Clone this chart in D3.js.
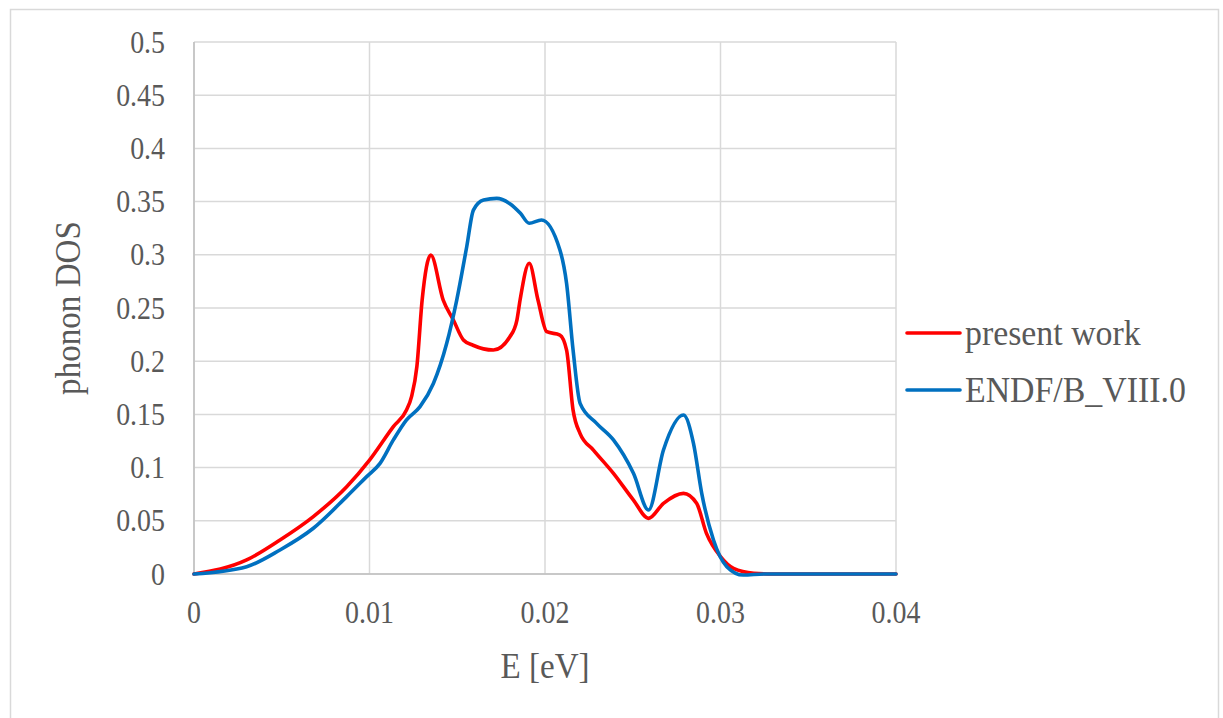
<!DOCTYPE html>
<html>
<head>
<meta charset="utf-8">
<script src="https://cdn.jsdelivr.net/npm/d3@7"></script>
<style>
  body { margin: 0; background: #fff; }
</style>
</head>
<body>
<script>
// energy grid [eV] and DOS values
var presentE = [0, 0.003, 0.0049, 0.0068, 0.0087, 0.010, 0.01136, 0.0121, 0.0124, 0.0127, 0.0130,
    0.01349, 0.0142, 0.01478, 0.01535, 0.0159, 0.01706, 0.0180, 0.0184, 0.01858, 0.0191, 0.0196,
    0.0201, 0.02085, 0.02123, 0.0216, 0.022, 0.02276, 0.0239, 0.02504, 0.0259, 0.02675, 0.02789,
    0.02864, 0.0292, 0.030, 0.03074, 0.0319, 0.033, 0.04];
var presentDos = [0, 0.0132, 0.032, 0.054, 0.082, 0.107, 0.1385, 0.154, 0.167, 0.195, 0.2575,
    0.2998, 0.2575, 0.2387, 0.22, 0.215, 0.2105, 0.223, 0.2387, 0.2575, 0.292, 0.2575,
    0.2277, 0.2246, 0.2105, 0.154, 0.132, 0.1165, 0.0946, 0.0695, 0.0523, 0.0664, 0.0758,
    0.0664, 0.0382, 0.0163, 0.0053, 0.0007, 0, 0];

var endfE = [0, 0.003, 0.0049, 0.0068, 0.0087, 0.00984, 0.0106, 0.01136, 0.0121, 0.01288, 0.01364,
    0.0144, 0.01497, 0.01554, 0.01592, 0.0165, 0.01725, 0.018, 0.0186, 0.0191, 0.0198, 0.02085,
    0.02123, 0.0216, 0.022, 0.02294, 0.0239, 0.02504, 0.0259, 0.02675, 0.02789, 0.02846, 0.02893,
    0.0296, 0.03036, 0.0313, 0.0325, 0.04];
var endfDos = [0, 0.0069, 0.0226, 0.043, 0.0727, 0.0915, 0.104, 0.126, 0.1447, 0.1573, 0.179,
    0.2168, 0.2575, 0.3076, 0.342, 0.3515, 0.353, 0.348, 0.339, 0.3296, 0.3327, 0.3045,
    0.273, 0.2105, 0.1604, 0.1416, 0.126, 0.0946, 0.0602, 0.1165, 0.1494, 0.1228, 0.0758,
    0.032, 0.0069, -0.001, 0, 0];

var xTicks = [0, 0.01, 0.02, 0.03, 0.04];
var yTicks = [0, 0.05, 0.1, 0.15, 0.2, 0.25, 0.3, 0.35, 0.4, 0.45, 0.5];
var seriesNames = ["present work", "ENDF/B_VIII.0"];
var seriesColors = ["#ff0000", "#0070c0"];

var W = 1223, H = 718;
var plot = {left: 194, top: 42, right: 896, bottom: 574};
var FONT = "'Liberation Serif', 'Times New Roman', serif";
var TXT = "#595959";

var svg = d3.select("body").append("svg")
    .attr("width", W)
    .attr("height", H);

// chart frame
svg.append("rect")
    .attr("x", 10.5).attr("y", 9.5)
    .attr("width", 1208).attr("height", 720)
    .attr("fill", "#fff")
    .attr("stroke", "#d9d9d9")
    .attr("stroke-width", 1.5);

var xScale = d3.scaleLinear().domain([0, 0.04]).range([plot.left, plot.right]);
var yScale = d3.scaleLinear().domain([0, 0.5]).range([plot.bottom, plot.top]);

// gridlines
svg.append("g").selectAll("line")
    .data(yTicks)
    .enter().append("line")
    .attr("x1", plot.left).attr("x2", plot.right)
    .attr("y1", d => yScale(d)).attr("y2", d => yScale(d))
    .attr("stroke", "#d9d9d9").attr("stroke-width", 1.5);

svg.append("g").selectAll("line")
    .data(xTicks)
    .enter().append("line")
    .attr("x1", d => xScale(d)).attr("x2", d => xScale(d))
    .attr("y1", plot.top).attr("y2", plot.bottom)
    .attr("stroke", "#d9d9d9").attr("stroke-width", 1.5);

// axis lines
svg.append("line")
    .attr("x1", plot.left).attr("x2", plot.left)
    .attr("y1", plot.top).attr("y2", plot.bottom)
    .attr("stroke", "#bfbfbf").attr("stroke-width", 1.5);
svg.append("line")
    .attr("x1", plot.left).attr("x2", plot.right)
    .attr("y1", plot.bottom).attr("y2", plot.bottom)
    .attr("stroke", "#bfbfbf").attr("stroke-width", 1.5);

// tick labels (slightly condensed, like the original)
svg.append("g").selectAll("text")
    .data(yTicks)
    .enter().append("text")
    .attr("transform", d => "translate(165," + yScale(d) + ") scale(0.9,1)")
    .attr("dy", "0.34em")
    .attr("text-anchor", "end")
    .attr("font-family", FONT)
    .attr("font-size", 31)
    .attr("fill", TXT)
    .text(d => d3.format("")(d));

svg.append("g").selectAll("text")
    .data(xTicks)
    .enter().append("text")
    .attr("transform", d => "translate(" + xScale(d) + ",623) scale(0.9,1)")
    .attr("text-anchor", "middle")
    .attr("font-family", FONT)
    .attr("font-size", 31)
    .attr("fill", TXT)
    .text(d => d3.format("")(d));

// axis titles
svg.append("text")
    .attr("transform", "translate(" + ((plot.left + plot.right) / 2) + ",678) scale(0.92,1)")
    .attr("text-anchor", "middle")
    .attr("font-family", FONT)
    .attr("font-size", 36)
    .attr("fill", TXT)
    .text("E [eV]");

svg.append("text")
    .attr("transform", "translate(80," + ((plot.top + plot.bottom) / 2) + ") rotate(-90) scale(0.92,1)")
    .attr("text-anchor", "middle")
    .attr("font-family", FONT)
    .attr("font-size", 36)
    .attr("fill", TXT)
    .text("phonon DOS");

// curves
var line = d3.line()
    .x(d => xScale(d[0]))
    .y(d => yScale(d[1]))
    .curve(d3.curveMonotoneX);

var series = [
    d3.zip(presentE, presentDos),
    d3.zip(endfE, endfDos)
];

svg.append("g").selectAll("path")
    .data(series)
    .enter().append("path")
    .attr("d", line)
    .attr("fill", "none")
    .attr("stroke", (d, i) => seriesColors[i])
    .attr("stroke-width", 3.6)
    .attr("stroke-linejoin", "round")
    .attr("stroke-linecap", "round");

// legend
var legend = svg.append("g").selectAll("g")
    .data(seriesNames)
    .enter().append("g")
    .attr("transform", (d, i) => "translate(907," + (333 + i * 57) + ")");

legend.append("line")
    .attr("x1", 0).attr("x2", 53)
    .attr("stroke", (d, i) => seriesColors[i])
    .attr("stroke-width", 3.6)
    .attr("stroke-linecap", "round");

legend.append("text")
    .attr("transform", "translate(58,12) scale(0.94,1)")
    .attr("font-family", FONT)
    .attr("font-size", 36)
    .attr("fill", TXT)
    .text(d => d);
</script>
</body>
</html>
